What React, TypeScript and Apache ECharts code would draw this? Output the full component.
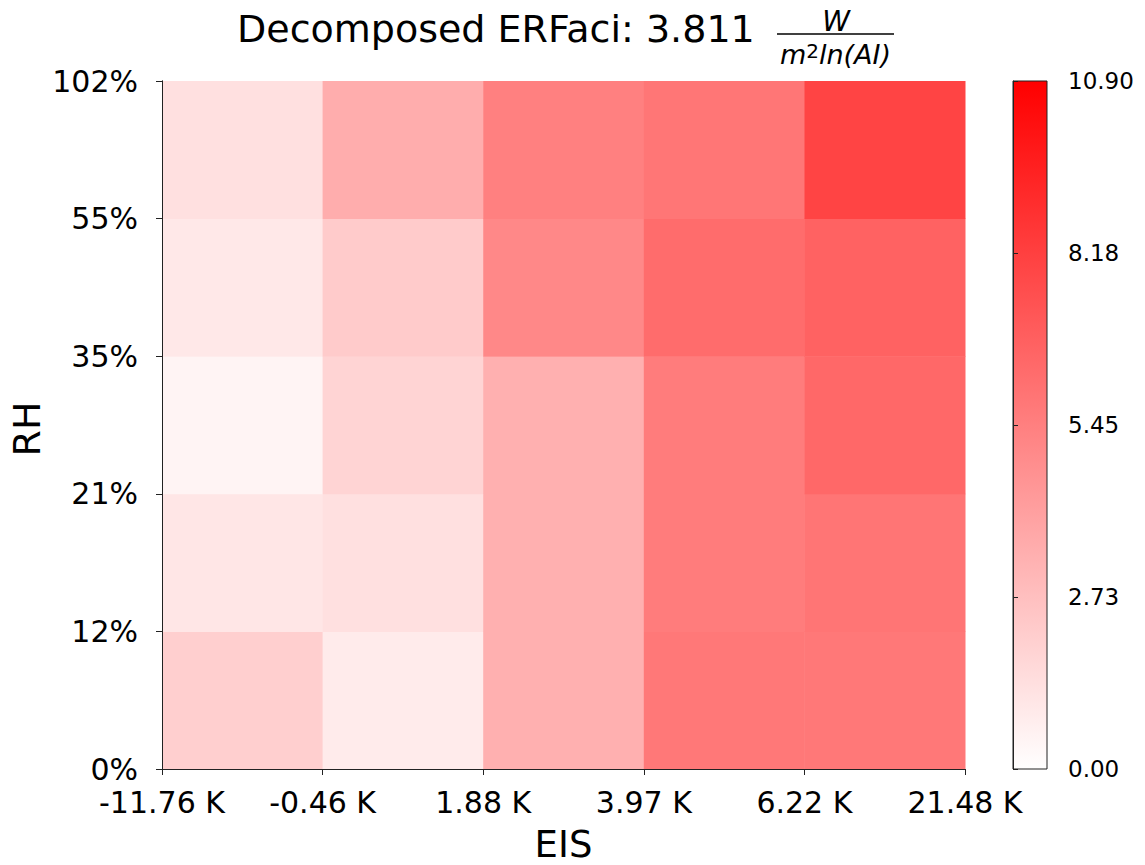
import React, { useEffect, useRef } from 'react';
import * as echarts from 'echarts';

// ---- data ----
const xEdgeLabels = ['-11.76 K', '-0.46 K', '1.88 K', '3.97 K', '6.22 K', '21.48 K'];
const yEdgeLabels = ['0%', '12%', '21%', '35%', '55%', '102%'];
// cell values per RH bin (bottom to top), columns follow EIS bins
const rhBin0_12 = [2.05, 0.85, 3.38, 5.77, 5.77];
const rhBin12_21 = [1.07, 1.33, 3.38, 5.6, 5.9];
const rhBin21_35 = [0.47, 1.84, 3.38, 5.6, 6.45];
const rhBin35_55 = [0.98, 2.22, 5.09, 6.28, 6.71];
const rhBin55_102 = [1.33, 3.5, 5.43, 5.86, 8.0];
const rows = [rhBin0_12, rhBin12_21, rhBin21_35, rhBin35_55, rhBin55_102];
const cbMin = 0;
const cbMax = 10.9;
const cbTickLabels = ['0.00', '2.73', '5.45', '8.18', '10.90'];
const titleText = 'Decomposed ERFaci: 3.811';
const xName = 'EIS';
const yName = 'RH';

const FONT = 'DejaVu Sans';
const LINE = '#222';

export default function App() {
  const ref = useRef<HTMLDivElement>(null);
  useEffect(() => {
    if (!ref.current) return;
    const chart = echarts.init(ref.current, null, { renderer: 'svg' });
    const cells: number[][] = [];
    rows.forEach((r, yi) => r.forEach((v, xi) => cells.push([xi, yi, v])));
    const nX = xEdgeLabels.length - 1;
    const nY = yEdgeLabels.length - 1;
    const cbInterval = (cbMax - cbMin) / (cbTickLabels.length - 1);

    const axisLine = { show: true, lineStyle: { color: LINE, width: 1 } };
    const option: any = {
      animation: false,
      backgroundColor: '#fff',
      grid: [
        { left: 162, top: 81, width: 803, height: 688, outerBoundsMode: 'none', containLabel: false },
        { left: 1013, top: 81, width: 34, height: 688, outerBoundsMode: 'none', containLabel: false },
      ],
      xAxis: [
        {
          gridIndex: 0, type: 'value', min: 0, max: nX, interval: 1, position: 'bottom', z: 10,
          axisLine, axisTick: { show: true, length: 6, inside: false, lineStyle: { color: LINE } },
          axisLabel: {
            formatter: (v: number) => xEdgeLabels[Math.round(v)] ?? '',
            fontSize: 30, color: '#000', fontFamily: FONT, margin: 18, showMinLabel: true, showMaxLabel: true,
          },
          splitLine: { show: false },
        },
        {
          gridIndex: 0, type: 'value', min: 0, max: nX, position: 'top', z: 10,
          axisLine, axisTick: { show: false }, axisLabel: { show: false }, splitLine: { show: false },
        },
        { gridIndex: 1, type: 'value', min: 0, max: 1, show: false, splitLine: { show: false } },
      ],
      yAxis: [
        {
          gridIndex: 0, type: 'value', min: 0, max: nY, interval: 1, position: 'left', z: 10,
          axisLine, axisTick: { show: true, length: 6, inside: false, lineStyle: { color: LINE } },
          axisLabel: {
            formatter: (v: number) => yEdgeLabels[Math.round(v)] ?? '',
            fontSize: 30, color: '#000', fontFamily: FONT, margin: 24, showMinLabel: true, showMaxLabel: true,
          },
          splitLine: { show: false },
        },
        {
          gridIndex: 0, type: 'value', min: 0, max: nY, position: 'right', z: 10,
          axisLine, axisTick: { show: false }, axisLabel: { show: false }, splitLine: { show: false },
        },
        {
          gridIndex: 1, type: 'value', min: cbMin, max: cbMax, interval: cbInterval, position: 'right', z: 10,
          axisLine, axisTick: { show: true, length: 5, inside: false, lineStyle: { color: LINE } },
          axisLabel: {
            formatter: (v: number) => cbTickLabels[Math.round((v - cbMin) / cbInterval)] ?? '',
            fontSize: 23, color: '#000', fontFamily: FONT, margin: 21, showMinLabel: true, showMaxLabel: true,
          },
          splitLine: { show: false },
        },
      ],
      visualMap: {
        show: false, type: 'continuous', seriesIndex: 0, dimension: 2, min: cbMin, max: cbMax,
        inRange: { color: ['#ffffff', '#ff0000'] },
      },
      series: [
        {
          type: 'custom', xAxisIndex: 0, yAxisIndex: 0, data: cells, encode: { x: 0, y: 1 },
          renderItem: (params: any, api: any) => {
            const x = api.value(0);
            const y = api.value(1);
            const p0 = api.coord([x, y + 1]);
            const p1 = api.coord([x + 1, y]);
            return {
              type: 'rect',
              shape: { x: p0[0], y: p0[1], width: p1[0] - p0[0] + 0.5, height: p1[1] - p0[1] + 0.5 },
              style: { fill: api.visual('color'), stroke: null },
            };
          },
        },
        {
          type: 'custom', xAxisIndex: 2, yAxisIndex: 2, data: [[0, cbMin]], encode: { x: 0, y: 1 },
          renderItem: (params: any, api: any) => {
            const p0 = api.coord([0, cbMax]);
            const p1 = api.coord([1, cbMin]);
            return {
              type: 'rect',
              shape: { x: p0[0], y: p0[1], width: p1[0] - p0[0], height: p1[1] - p0[1] },
              style: {
                fill: new echarts.graphic.LinearGradient(0, 0, 0, 1, [
                  { offset: 0, color: '#ff0000' },
                  { offset: 1, color: '#ffffff' },
                ]),
                stroke: LINE,
                lineWidth: 1,
              },
            };
          },
        },
      ],
      graphic: [
        {
          type: 'text', x: 237, y: 29,
          style: { text: titleText, fontSize: 38, fontFamily: FONT, fill: '#000', align: 'left', verticalAlign: 'middle' },
        },
        { type: 'line', shape: { x1: 777, y1: 34, x2: 894, y2: 34 }, style: { stroke: '#000', lineWidth: 1.5 } },
        {
          type: 'text', x: 836, y: 21,
          style: { text: 'W', fontSize: 28, fontStyle: 'italic', fontFamily: FONT, fill: '#000', align: 'center', verticalAlign: 'middle' },
        },
        {
          type: 'text', x: 835.5, y: 54,
          style: {
            text: '{a|m}{s|2}{a|ln(AI)}', align: 'center', verticalAlign: 'middle', fill: '#000',
            rich: {
              a: { fontSize: 27, fontStyle: 'italic', fontFamily: FONT, fill: '#000' },
              s: { fontSize: 20, fontFamily: FONT, fill: '#000', verticalAlign: 'top' },
            },
          },
        },
        {
          type: 'text', x: 27, y: 429, rotation: Math.PI / 2,
          style: { text: yName, fontSize: 38, fontFamily: FONT, fill: '#000', align: 'center', verticalAlign: 'middle' },
        },
        {
          type: 'text', x: 563.5, y: 844,
          style: { text: xName, fontSize: 37, fontFamily: FONT, fill: '#000', align: 'center', verticalAlign: 'middle' },
        },
      ],
    };
    chart.setOption(option);
    return () => chart.dispose();
  }, []);
  return (
    <div
      ref={ref}
      style={{ position: 'fixed', left: 0, top: 0, width: 1145, height: 865, background: '#fff' }}
    />
  );
}
